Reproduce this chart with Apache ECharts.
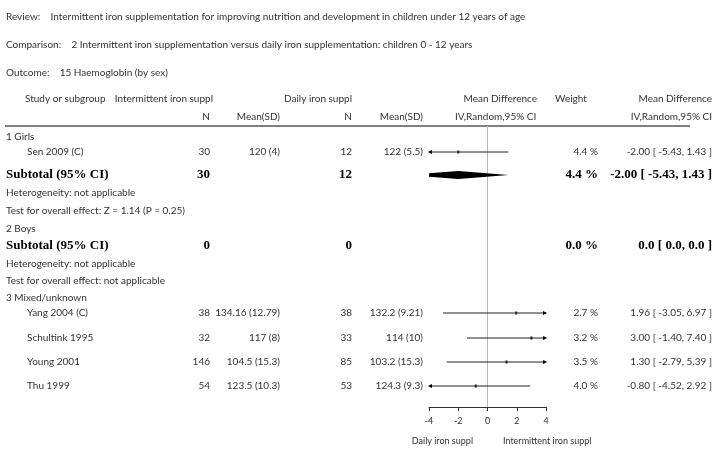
<!DOCTYPE html>
<html><head><meta charset="utf-8">
<script src="https://cdn.jsdelivr.net/npm/echarts@6/dist/echarts.min.js"></script>
<style>html,body{margin:0;padding:0;background:#fff}#main{width:716px;height:450px}</style>
</head><body><div id="main"></div>
<script>
var chart = echarts.init(document.getElementById('main'));

// study data
var studies = ['Sen 2009 (C)', 'Yang 2004 (C)', 'Schultink 1995', 'Young 2001', 'Thu 1999'];
var intN = [30, 38, 32, 146, 54];
var intMean = ['120 (4)', '134.16 (12.79)', '117 (8)', '104.5 (15.3)', '123.5 (10.3)'];
var dailyN = [12, 38, 33, 85, 53];
var dailyMean = ['122 (5.5)', '132.2 (9.21)', '114 (10)', '103.2 (15.3)', '124.3 (9.3)'];
var md = [-2.00, 1.96, 3.00, 1.30, -0.80];
var lo = [-5.43, -3.05, -1.40, -2.79, -4.52];
var hi = [1.43, 6.97, 7.40, 5.39, 2.92];
var weight = ['4.4 %', '2.7 %', '3.2 %', '3.5 %', '4.0 %'];
var studyRowY = [152, 313, 338, 362, 386];   // row layout
var ticks = [-4, -2, 0, 2, 4];

var sub = { md: -2.00, lo: -5.43, hi: 1.43 };

var font = 'Lato, "Open Sans", sans-serif';
var serif = '"Liberation Serif", "DejaVu Serif", serif';
var g = [];
function txt(x, y, s, align, opt) {
    opt = opt || {};
    g.push({ type: 'text', x: x, y: y, style: {
        text: s, align: align || 'left', verticalAlign: 'middle',
        font: (opt.bold ? 'bold ' : '') + (opt.size || 10) + 'px ' + (opt.serif ? serif : font),
        fill: opt.color || '#333'
    }});
}
var B = { bold: true, serif: true, size: 13, color: '#000' };
txt(6, 17, 'Review:    Intermittent iron supplementation for improving nutrition and development in children under 12 years of age');
txt(6, 45, 'Comparison:    2 Intermittent iron supplementation versus daily iron supplementation: children 0 - 12 years');
txt(6, 73, 'Outcome:    15 Haemoglobin (by sex)');
txt(25, 99, 'Study or subgroup');
txt(213, 99, 'Intermittent iron suppl', 'right');
txt(352, 99, 'Daily iron suppl', 'right');
txt(537, 99, 'Mean Difference', 'right');
txt(571, 99, 'Weight', 'center');
txt(712, 99, 'Mean Difference', 'right');
txt(210, 117, 'N', 'right');
txt(280, 117, 'Mean(SD)', 'right');
txt(352, 117, 'N', 'right');
txt(423, 117, 'Mean(SD)', 'right');
txt(455, 117, 'IV,Random,95% CI');
txt(712, 117, 'IV,Random,95% CI', 'right');
g.push({ type: 'line', shape: { x1: 5, y1: 126, x2: 690, y2: 126 }, style: { stroke: '#000', lineWidth: 1.2 } });

function fmt(v) { return v.toFixed(2); }
studies.forEach(function (s, i) {
    var y = studyRowY[i];
    txt(27, y, s);
    txt(210, y, String(intN[i]), 'right');
    txt(280, y, intMean[i], 'right');
    txt(352, y, String(dailyN[i]), 'right');
    txt(423, y, dailyMean[i], 'right');
    txt(598, y, weight[i], 'right');
    txt(712, y, fmt(md[i]) + ' [ ' + fmt(lo[i]) + ', ' + fmt(hi[i]) + ' ]', 'right');
});
txt(6, 137, '1 Girls');
txt(6, 175, 'Subtotal (95% CI)', 'left', B);
txt(210, 175, '30', 'right', B);
txt(352, 175, '12', 'right', B);
txt(598, 175, '4.4 %', 'right', B);
txt(712, 175, '-2.00 [ -5.43, 1.43 ]', 'right', B);
txt(6, 193, 'Heterogeneity: not applicable');
txt(6, 211, 'Test for overall effect: Z = 1.14 (P = 0.25)');
txt(6, 229, '2 Boys');
txt(6, 246, 'Subtotal (95% CI)', 'left', B);
txt(210, 246, '0', 'right', B);
txt(352, 246, '0', 'right', B);
txt(598, 246, '0.0 %', 'right', B);
txt(712, 246, '0.0 [ 0.0, 0.0 ]', 'right', B);
txt(6, 264, 'Heterogeneity: not applicable');
txt(6, 281, 'Test for overall effect: not applicable');
txt(6, 298, '3 Mixed/unknown');
txt(473, 441, 'Daily iron suppl', 'right', { size: 9 });
txt(503, 441, 'Intermittent iron suppl', 'left', { size: 9 });

var ciData = studies.map(function (s, i) { return [lo[i], hi[i], md[i], studyRowY[i]]; });

function renderCI(params, api) {
    var l = Math.max(api.value(0), -4), h = Math.min(api.value(1), 4);
    var y = api.value(3);
    var p1 = api.coord([l, y]), p2 = api.coord([h, y]), pm = api.coord([api.value(2), y]);
    var ch = [{ type: 'line', shape: { x1: p1[0], y1: p1[1], x2: p2[0], y2: p2[1] }, style: { stroke: '#222', lineWidth: 1 } },
              { type: 'rect', shape: { x: pm[0] - 1, y: pm[1] - 1.5, width: 2, height: 3 }, style: { fill: '#222' } }];
    if (api.value(0) < -4) ch.push({ type: 'polygon', shape: { points: [[p1[0] - 1, p1[1]], [p1[0] + 3, p1[1] - 2], [p1[0] + 3, p1[1] + 2]] }, style: { fill: '#000' } });
    if (api.value(1) > 4) ch.push({ type: 'polygon', shape: { points: [[p2[0] + 1, p2[1]], [p2[0] - 3, p2[1] - 2], [p2[0] - 3, p2[1] + 2]] }, style: { fill: '#000' } });
    return { type: 'group', children: ch };
}

function renderDiamond(params, api) {
    var y = api.value(3), lv = api.value(0), hv = api.value(1), m = api.value(2), hh = 4;
    var l = Math.max(lv, -4);
    var lh = hh * (1 - (m - l) / (m - lv));
    var a = api.coord([l, y]), c = api.coord([m, y]), b = api.coord([hv, y]);
    return { type: 'polygon', shape: { points: [[a[0], a[1] - lh], [c[0], c[1] - hh], [b[0], b[1]], [c[0], c[1] + hh], [a[0], a[1] + lh]] }, style: { fill: '#000' } };
}

function renderZero(params, api) {
    var t = api.coord([0, 126]), b = api.coord([0, 407]);
    return { type: 'line', shape: { x1: t[0], y1: t[1], x2: b[0], y2: b[1] }, style: { stroke: '#bbb', lineWidth: 1 } };
}

var option = {
    animation: false,
    grid: { left: 429, right: 170, top: 0, bottom: 43 },
    xAxis: {
        type: 'value', min: -4, max: 4, interval: 2, position: 'bottom',
        axisLine: { onZero: false, lineStyle: { color: '#333' } },
        axisTick: { length: 4, lineStyle: { color: '#333' } },
        axisLabel: { fontFamily: font, fontSize: 9, color: '#333', margin: 10 },
        splitLine: { show: false }
    },
    yAxis: { type: 'value', min: 0, max: 407, inverse: true, show: false },
    graphic: g,
    series: [
        { type: 'custom', renderItem: renderZero, data: [[0]], clip: false, silent: true },
        { type: 'custom', renderItem: renderCI, data: ciData, clip: false, silent: true },
        { type: 'custom', renderItem: renderDiamond, data: [[sub.lo, sub.hi, sub.md, 175]], clip: false, silent: true }
    ]
};
chart.setOption(option);
window.onresize = chart.resize;
</script></body></html>
